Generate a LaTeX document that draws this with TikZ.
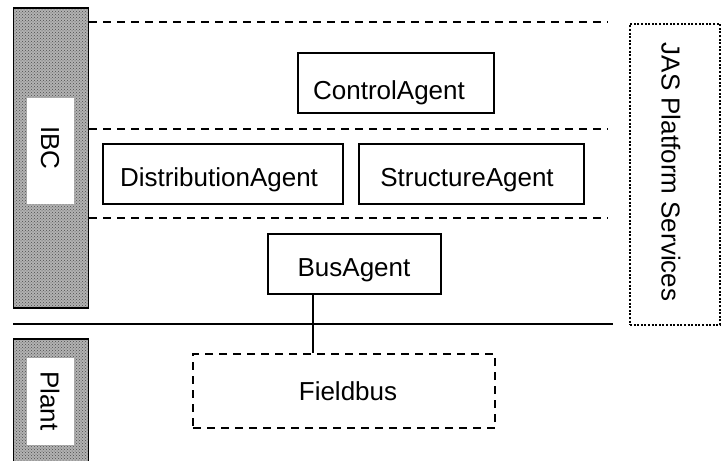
\documentclass[tikz,border=0pt]{standalone}
\usepackage{fontspec}
\setmainfont{Liberation Sans}
\usetikzlibrary{patterns}

\tikzset{
  lbl/.style={font=\fontsize{26}{30}\selectfont, inner sep=0pt},
  agentbox/.style={draw, line width=1.3pt, inner sep=0pt},
  layer/.style={line width=1.2pt, dash pattern=on 8pt off 6pt},
  sidebar/.style={draw=black, line width=1.7pt, preaction={fill=black!30}, pattern=crosshatch dots, pattern color=black!70},
  plate/.style={fill=white, draw=none, inner sep=0pt},
}

\begin{document}
\begin{tikzpicture}[x=1pt, y=-1pt]
  \useasboundingbox (0,0) rectangle (727,460);

  % shaded side bars with white name plates
  \node[sidebar, minimum width=75pt, minimum height=300pt] (ibcbar) at (51,158) {};
  \node[plate, minimum width=47pt, minimum height=106pt] (ibcplate) at (50.5,151) {};
  \node[lbl, rotate=-90] (ibc) at (50,148) {IBC};

  \node[sidebar, minimum width=75pt, minimum height=130pt] (plantbar) at (51,404) {};
  \node[plate, minimum width=47pt, minimum height=87pt] (plantplate) at (50.5,401.5) {};
  \node[lbl, rotate=-90] (plant) at (50,401) {Plant};

  % layer separators
  \coordinate (l1a) at (89,22);  \coordinate (l1b) at (608,22);
  \coordinate (l2a) at (89,129); \coordinate (l2b) at (608,129);
  \coordinate (l3a) at (89,218); \coordinate (l3b) at (608,218);
  \draw[layer] (l1a) -- (l1b);
  \draw[layer] (l2a) -- (l2b);
  \draw[layer] (l3a) -- (l3b);

  % IBC / plant boundary
  \coordinate (bl) at (13,324); \coordinate (br) at (613,324);
  \draw[line width=1.3pt] (bl) -- (br);

  % agents
  \node[agentbox, minimum width=196pt, minimum height=60pt] (control) at (396,83) {};
  \node[lbl] (controlt) at (389,93) {ControlAgent};

  \node[agentbox, minimum width=240pt, minimum height=60pt] (distrib) at (223,174) {};
  \node[lbl] (distribt) at (219,180) {DistributionAgent};

  \node[agentbox, minimum width=225pt, minimum height=60pt] (struct) at (471.5,174) {};
  \node[lbl] (structt) at (467,180) {StructureAgent};

  \node[agentbox, minimum width=173pt, minimum height=60pt] (bus) at (354.5,264) {};
  \node[lbl] (bust) at (354,270) {BusAgent};

  % field bus
  \node[draw, line width=1.2pt, dash pattern=on 8pt off 6pt, minimum width=302pt, minimum height=74pt] (field) at (344,391) {};
  \node[lbl] (fieldt) at (348,391) {Fieldbus};

  \coordinate (tap) at (313,0);
  \draw[line width=1.3pt] (tap |- bus.south) -- (tap |- field.north);

  % platform services
  \node[draw, line width=1.2pt, dash pattern=on 2pt off 1.6pt, minimum width=90pt, minimum height=301pt] (jas) at (675,174.5) {};
  \node[lbl, rotate=-90] (jast) at (671,172) {JAS Platform Services};
\end{tikzpicture}
\end{document}
